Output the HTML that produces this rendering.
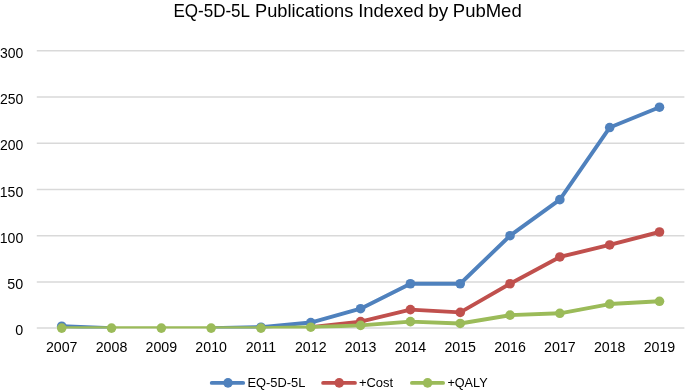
<!DOCTYPE html><html><head><meta charset="utf-8"><style>html,body{margin:0;padding:0;background:#fff;width:685px;height:392px;overflow:hidden}svg{display:block;will-change:transform}text{font-family:"Liberation Sans",sans-serif;fill:#000}</style></head><body>
<svg width="685" height="392" viewBox="0 0 685 392">
<rect width="685" height="392" fill="#fff"/>
<text x="173.41" y="16.6" font-size="18.5" textLength="76.61" lengthAdjust="spacingAndGlyphs">EQ-5D-5L</text>
<text x="255.00" y="16.6" font-size="18.5" textLength="98.30" lengthAdjust="spacingAndGlyphs">Publications</text>
<text x="358.17" y="16.6" font-size="18.5" textLength="65.65" lengthAdjust="spacingAndGlyphs">Indexed</text>
<text x="428.18" y="16.6" font-size="18.5" textLength="20.00" lengthAdjust="spacingAndGlyphs">by</text>
<text x="452.80" y="16.6" font-size="18.5" textLength="68.89" lengthAdjust="spacingAndGlyphs">PubMed</text>
<line x1="36.8" y1="328.10" x2="684.4" y2="328.10" stroke="#D9D9D9" stroke-width="1.5"/>
<line x1="36.8" y1="281.89" x2="684.4" y2="281.89" stroke="#D9D9D9" stroke-width="1.5"/>
<line x1="36.8" y1="235.68" x2="684.4" y2="235.68" stroke="#D9D9D9" stroke-width="1.5"/>
<line x1="36.8" y1="189.48" x2="684.4" y2="189.48" stroke="#D9D9D9" stroke-width="1.5"/>
<line x1="36.8" y1="143.27" x2="684.4" y2="143.27" stroke="#D9D9D9" stroke-width="1.5"/>
<line x1="36.8" y1="97.06" x2="684.4" y2="97.06" stroke="#D9D9D9" stroke-width="1.5"/>
<line x1="36.8" y1="50.85" x2="684.4" y2="50.85" stroke="#D9D9D9" stroke-width="1.5"/>
<text x="23.20" y="335.30" font-size="14.3" text-anchor="end">0</text>
<text x="23.20" y="289.09" font-size="14.3" text-anchor="end">50</text>
<text x="-0.25" y="242.88" font-size="14.3" textLength="23.54" lengthAdjust="spacingAndGlyphs">100</text>
<text x="-0.25" y="196.68" font-size="14.3" textLength="23.54" lengthAdjust="spacingAndGlyphs">150</text>
<text x="0.09" y="150.47" font-size="14.3" textLength="23.32" lengthAdjust="spacingAndGlyphs">200</text>
<text x="0.09" y="104.26" font-size="14.3" textLength="23.32" lengthAdjust="spacingAndGlyphs">250</text>
<text x="0.05" y="58.05" font-size="14.3" textLength="23.29" lengthAdjust="spacingAndGlyphs">300</text>
<text x="61.71" y="351.8" font-size="14.2" text-anchor="middle">2007</text>
<text x="111.52" y="351.8" font-size="14.2" text-anchor="middle">2008</text>
<text x="161.34" y="351.8" font-size="14.2" text-anchor="middle">2009</text>
<text x="211.15" y="351.8" font-size="14.2" text-anchor="middle">2010</text>
<text x="260.97" y="351.8" font-size="14.2" text-anchor="middle">2011</text>
<text x="310.78" y="351.8" font-size="14.2" text-anchor="middle">2012</text>
<text x="360.60" y="351.8" font-size="14.2" text-anchor="middle">2013</text>
<text x="410.42" y="351.8" font-size="14.2" text-anchor="middle">2014</text>
<text x="460.23" y="351.8" font-size="14.2" text-anchor="middle">2015</text>
<text x="510.05" y="351.8" font-size="14.2" text-anchor="middle">2016</text>
<text x="559.86" y="351.8" font-size="14.2" text-anchor="middle">2017</text>
<text x="609.68" y="351.8" font-size="14.2" text-anchor="middle">2018</text>
<text x="659.49" y="351.8" font-size="14.2" text-anchor="middle">2019</text>
<defs><clipPath id="pa"><rect x="0" y="0" width="685" height="328.4"/></clipPath></defs>
<path d="M61.71 326.25L111.52 328.10M211.15 328.10L260.97 327.18M260.97 327.18L310.78 322.56M310.78 322.56L360.60 308.69M360.60 308.69L410.42 283.74M410.42 283.74L460.23 283.74M460.23 283.74L510.05 235.68M510.05 235.68L559.86 199.64M559.86 199.64L609.68 127.56M609.68 127.56L659.49 107.22" fill="none" stroke="#4F81BD" stroke-width="3.9" stroke-linejoin="round" stroke-linecap="round" clip-path="url(#pa)"/>
<circle cx="61.71" cy="326.25" r="4.8" fill="#4F81BD"/>
<circle cx="260.97" cy="327.18" r="4.8" fill="#4F81BD"/>
<circle cx="310.78" cy="322.56" r="4.8" fill="#4F81BD"/>
<circle cx="360.60" cy="308.69" r="4.8" fill="#4F81BD"/>
<circle cx="410.42" cy="283.74" r="4.8" fill="#4F81BD"/>
<circle cx="460.23" cy="283.74" r="4.8" fill="#4F81BD"/>
<circle cx="510.05" cy="235.68" r="4.8" fill="#4F81BD"/>
<circle cx="559.86" cy="199.64" r="4.8" fill="#4F81BD"/>
<circle cx="609.68" cy="127.56" r="4.8" fill="#4F81BD"/>
<circle cx="659.49" cy="107.22" r="4.8" fill="#4F81BD"/>
<path d="M310.78 327.18L360.60 321.63M360.60 321.63L410.42 309.62M410.42 309.62L460.23 312.39M460.23 312.39L510.05 283.74M510.05 283.74L559.86 256.94M559.86 256.94L609.68 244.93M609.68 244.93L659.49 231.99" fill="none" stroke="#C0504D" stroke-width="3.9" stroke-linejoin="round" stroke-linecap="round" clip-path="url(#pa)"/>
<circle cx="360.60" cy="321.63" r="4.8" fill="#C0504D"/>
<circle cx="410.42" cy="309.62" r="4.8" fill="#C0504D"/>
<circle cx="460.23" cy="312.39" r="4.8" fill="#C0504D"/>
<circle cx="510.05" cy="283.74" r="4.8" fill="#C0504D"/>
<circle cx="559.86" cy="256.94" r="4.8" fill="#C0504D"/>
<circle cx="609.68" cy="244.93" r="4.8" fill="#C0504D"/>
<circle cx="659.49" cy="231.99" r="4.8" fill="#C0504D"/>
<path d="M61.71 328.10L111.52 328.10M111.52 328.10L161.34 328.10M161.34 328.10L211.15 328.10M211.15 328.10L260.97 328.10M260.97 328.10L310.78 327.18M310.78 327.18L360.60 325.33M360.60 325.33L410.42 321.63M410.42 321.63L460.23 323.48M460.23 323.48L510.05 315.16M510.05 315.16L559.86 313.31M559.86 313.31L609.68 304.07M609.68 304.07L659.49 301.30" fill="none" stroke="#9BBB59" stroke-width="3.9" stroke-linejoin="round" stroke-linecap="round" clip-path="url(#pa)"/>
<circle cx="61.71" cy="328.10" r="4.8" fill="#9BBB59"/>
<circle cx="111.52" cy="328.10" r="4.8" fill="#9BBB59"/>
<circle cx="161.34" cy="328.10" r="4.8" fill="#9BBB59"/>
<circle cx="211.15" cy="328.10" r="4.8" fill="#9BBB59"/>
<circle cx="260.97" cy="328.10" r="4.8" fill="#9BBB59"/>
<circle cx="310.78" cy="327.18" r="4.8" fill="#9BBB59"/>
<circle cx="360.60" cy="325.33" r="4.8" fill="#9BBB59"/>
<circle cx="410.42" cy="321.63" r="4.8" fill="#9BBB59"/>
<circle cx="460.23" cy="323.48" r="4.8" fill="#9BBB59"/>
<circle cx="510.05" cy="315.16" r="4.8" fill="#9BBB59"/>
<circle cx="559.86" cy="313.31" r="4.8" fill="#9BBB59"/>
<circle cx="609.68" cy="304.07" r="4.8" fill="#9BBB59"/>
<circle cx="659.49" cy="301.30" r="4.8" fill="#9BBB59"/>
<line x1="211.75" y1="382.9" x2="243.15" y2="382.9" stroke="#4F81BD" stroke-width="3.9" stroke-linecap="round"/>
<circle cx="228" cy="382.9" r="4.8" fill="#4F81BD"/>
<text x="247.52" y="387.3" font-size="13.3" textLength="57.87" lengthAdjust="spacingAndGlyphs">EQ-5D-5L</text>
<line x1="323.15" y1="382.9" x2="354.95" y2="382.9" stroke="#C0504D" stroke-width="3.9" stroke-linecap="round"/>
<circle cx="339.2" cy="382.9" r="4.8" fill="#C0504D"/>
<text x="358.93" y="387.3" font-size="13.3" textLength="34.22" lengthAdjust="spacingAndGlyphs">+Cost</text>
<line x1="411.95" y1="382.9" x2="443.05" y2="382.9" stroke="#9BBB59" stroke-width="3.9" stroke-linecap="round"/>
<circle cx="427.6" cy="382.9" r="4.8" fill="#9BBB59"/>
<text x="447.38" y="387.3" font-size="13.3" textLength="40.24" lengthAdjust="spacingAndGlyphs">+QALY</text>
</svg></body></html>
